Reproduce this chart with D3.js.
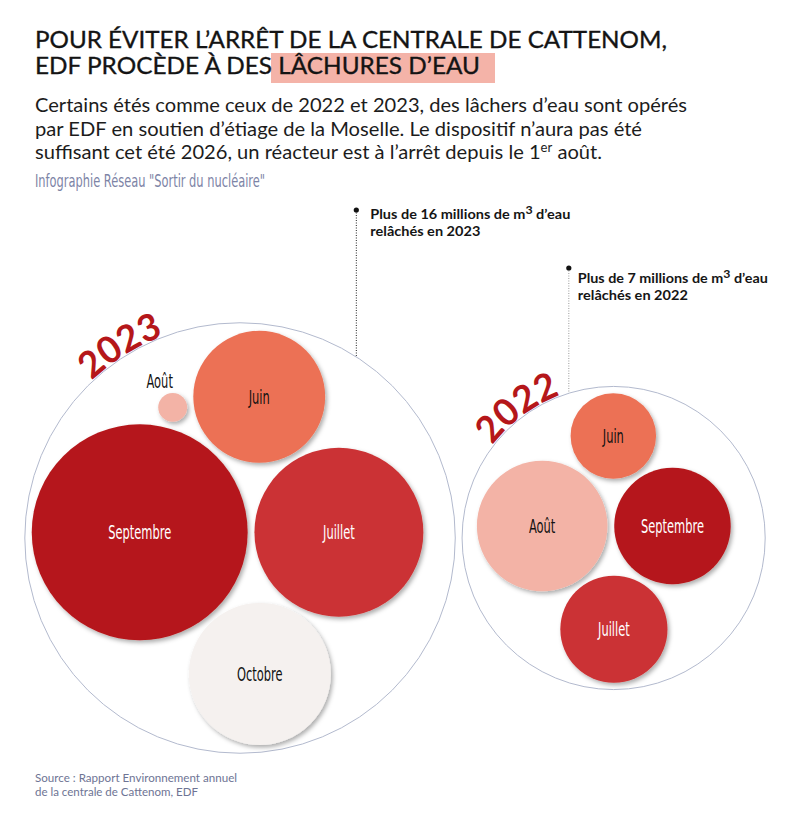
<!DOCTYPE html>
<html>
<head>
<meta charset="utf-8">
<script src="https://cdn.jsdelivr.net/npm/d3@7"></script>
<style>
	body { margin: 0; background: #fff; }
	svg { display: block; }
	.lato { font-family: Lato, "Open Sans", sans-serif; }
	.narrow { font-family: "Liberation Sans Narrow", "DejaVu Sans Condensed", sans-serif; }
</style>
</head>
<body>
<div id="main"></div>
<script>
const years = ["2023", "2022"];
const months = ["Juin", "Juillet", "Août", "Septembre", "Octobre"];
const volumes2023 = [2.5, 4.1, 0.12, 6.7, 2.9];
const volumes2022 = [1.05, 1.65, 2.45, 1.95, 0];
const volumes = [volumes2023, volumes2022];
const totals = ["Plus de 16 millions de m", "Plus de 7 millions de m"];
const totalsEnd = ["relâchés en 2023", "relâchés en 2022"];

const titleLines = [
	"POUR ÉVITER L’ARRÊT DE LA CENTRALE DE CATTENOM,",
	"EDF PROCÈDE À DES LÂCHURES D’EAU",
];
const introLines = [
	"Certains étés comme ceux de 2022 et 2023, des lâchers d’eau sont opérés",
	"par EDF en soutien d’étiage de la Moselle. Le dispositif n’aura pas été",
	"suffisant cet été 2026, un réacteur est à l’arrêt depuis le 1",
];
const credit = "Infographie Réseau \"Sortir du nucléaire\"";
const sourceLines = [
	"Source : Rapport Environnement annuel",
	"de la centrale de Cattenom, EDF",
];

const color = d3
	.scaleOrdinal()
	.domain(months)
	.range(["#ec7155", "#cb3234", "#f3b3a6", "#b5171a", "#f5f1ef"]);
const ink = d3
	.scaleOrdinal()
	.domain(months)
	.range(["#111", "#fff", "#111", "#fff", "#111"]);

const width = 786,
	height = 815;

const fit = (sel, w) =>
	sel.attr("textLength", w).attr("lengthAdjust", "spacingAndGlyphs");

const svg = d3
	.select("#main")
	.append("svg")
	.attr("width", width)
	.attr("height", height);

svg.append("defs")
	.append("filter")
	.attr("id", "shadow")
	.attr("x", "-20%")
	.attr("y", "-20%")
	.attr("width", "150%")
	.attr("height", "150%")
	.append("feDropShadow")
	.attr("dx", 2)
	.attr("dy", 2.5)
	.attr("stdDeviation", 2)
	.attr("flood-color", "#000")
	.attr("flood-opacity", 0.32);

// en-tête
const head = svg.append("g").classed("head", true);
head.append("rect")
	.attr("x", 271)
	.attr("y", 53)
	.attr("width", 224)
	.attr("height", 30)
	.attr("fill", "#f4b3a8");
head.selectAll("text.title")
	.data(titleLines)
	.enter()
	.append("text")
	.classed("title lato", true)
	.attr("x", 35)
	.attr("y", (d, i) => 48 + i * 26)
	.style("font-size", "24px")
	.style("fill", "#141414")
	.style("stroke", "#141414")
	.style("stroke-width", 0.35)
	.text((d) => d)
	.each(function (d, i) {
		fit(d3.select(this), [632, 445][i]);
	});

const intro = head
	.selectAll("text.intro")
	.data(introLines)
	.enter()
	.append("text")
	.classed("intro lato", true)
	.attr("x", 35)
	.attr("y", (d, i) => 112 + i * 23.5)
	.style("font-size", "20px")
	.style("fill", "#1c1c1c")
	.text((d) => d);
intro.filter((d, i) => i === 2)
	.append("tspan")
	.attr("dy", -7)
	.style("font-size", "13px")
	.text("er");
intro.filter((d, i) => i === 2)
	.append("tspan")
	.attr("dy", 7)
	.text(" août.");
intro.each(function (d, i) {
	fit(d3.select(this), [652, 607, 567][i]);
});

head.append("text")
	.classed("narrow", true)
	.attr("x", 35)
	.attr("y", 187)
	.style("font-size", "17px")
	.style("fill", "#7d84a6")
	.text(credit)
	.call(fit, 230);

// bulles
const root = d3
	.hierarchy({
		children: years.map((y, i) => ({
			name: y,
			children: months
				.map((m, j) => ({ name: m, value: volumes[i][j] }))
				.filter((d) => d.value > 0),
		})),
	})
	.sum((d) => d.value || 0)
	.sort((a, b) => b.value - a.value);

const diameter = 754;
d3.pack().size([diameter, diameter]).padding(7.5)(root);

const guts = svg
	.append("g")
	.classed("guts", true)
	.attr("transform", `translate(18,161)`);

const yearNodes = root.children;
const monthNodes = root.leaves();

guts.selectAll("circle.year")
	.data(yearNodes)
	.enter()
	.append("circle")
	.classed("year", true)
	.attr("cx", (d) => d.x)
	.attr("cy", (d) => d.y)
	.attr("r", (d) => d.r)
	.style("fill", "none")
	.style("stroke", "#b3bace")
	.style("stroke-width", 1);

guts.selectAll("circle.month")
	.data(monthNodes)
	.enter()
	.append("circle")
	.classed("month", true)
	.attr("cx", (d) => d.x)
	.attr("cy", (d) => d.y)
	.attr("r", (d) => d.r)
	.attr("filter", "url(#shadow)")
	.style("fill", (d) => color(d.data.name));

const labels = guts
	.selectAll("text.month")
	.data(monthNodes)
	.enter()
	.append("text")
	.classed("month narrow", true)
	.attr("x", (d) => (d.r < 25 ? d.x - 13 : d.x))
	.attr("y", (d) => (d.r < 25 ? d.y - d.r - 5 : d.y))
	.attr("dy", (d) => (d.r < 25 ? 0 : "0.36em"))
	.attr("text-anchor", "middle")
	.style("font-size", "19px")
	.style("fill", (d) => (d.r < 25 ? "#111" : ink(d.data.name)))
	.text((d) => d.data.name);
// police étroite : on ramène "Septembre" à sa largeur d'origine
const ref = labels.filter((d) => d.data.name === "Septembre").node();
const squeeze = 63 / ref.getComputedTextLength();
labels.each(function () {
	fit(d3.select(this), this.getComputedTextLength() * squeeze);
});

// années le long des cercles
const arcAngle = { 2023: -32, 2022: -36.5 };
const polar = (d, r, deg) => {
	const a = (deg * Math.PI) / 180;
	return [d.x + r * Math.sin(a), d.y - r * Math.cos(a)];
};
yearNodes.forEach((d) => {
	const r = d.r + 1;
	const c = arcAngle[d.data.name];
	const [x0, y0] = polar(d, r, c - 90);
	const [x1, y1] = polar(d, r, c + 90);
	guts.append("path")
		.attr("id", `arc-${d.data.name}`)
		.attr("d", `M${x0},${y0} A${r},${r} 0 0 1 ${x1},${y1}`)
		.style("fill", "none");
	guts.append("text")
		.classed("lato", true)
		.style("font-size", "37px")
		.style("font-weight", 700)
		.style("fill", "#b5171a")
		.append("textPath")
		.attr("href", `#arc-${d.data.name}`)
		.attr("startOffset", "50%")
		.attr("text-anchor", "middle")
		.text(d.data.name);
});

// annotations des totaux
const notes = [
	{ angle: 32.7, top: 210 - 161, dx: 14, dy: 9, stroke: "#222" },
	{ angle: -17.2, top: 268 - 161, dx: 9, dy: 15, stroke: "#9a9a9a" },
];
yearNodes.forEach((d, i) => {
	const n = notes[i];
	const [x, y] = polar(d, d.r, n.angle);
	guts.append("line")
		.attr("x1", x)
		.attr("x2", x)
		.attr("y1", n.top)
		.attr("y2", y)
		.style("stroke", n.stroke)
		.style("stroke-width", 1)
		.style("stroke-dasharray", "1,1.5");
	guts.append("circle")
		.attr("cx", x)
		.attr("cy", n.top)
		.attr("r", 2.6)
		.style("fill", "#111");
	const t1 = guts
		.append("text")
		.classed("lato", true)
		.attr("x", x + n.dx)
		.attr("y", n.top + n.dy)
		.style("font-size", "14px")
		.style("font-weight", 700)
		.style("fill", "#151515")
		.text(totals[i]);
	t1.append("tspan").attr("dy", -5).style("font-size", "12px").text("3");
	t1.append("tspan").attr("dy", 5).text(" d’eau");
	fit(t1, [200, 190][i]);
	guts.append("text")
		.classed("lato", true)
		.attr("x", x + n.dx)
		.attr("y", n.top + n.dy + 16.5)
		.style("font-size", "14px")
		.style("font-weight", 700)
		.style("fill", "#151515")
		.text(totalsEnd[i])
		.call(fit, 110);
});

// source
svg.selectAll("text.source")
	.data(sourceLines)
	.enter()
	.append("text")
	.classed("source lato", true)
	.attr("x", 35)
	.attr("y", (d, i) => 782 + i * 13.5)
	.style("font-size", "12px")
	.style("fill", "#6e7494")
	.text((d) => d)
	.each(function (d, i) {
		fit(d3.select(this), [202, 163][i]);
	});
</script>
</body>
</html>
